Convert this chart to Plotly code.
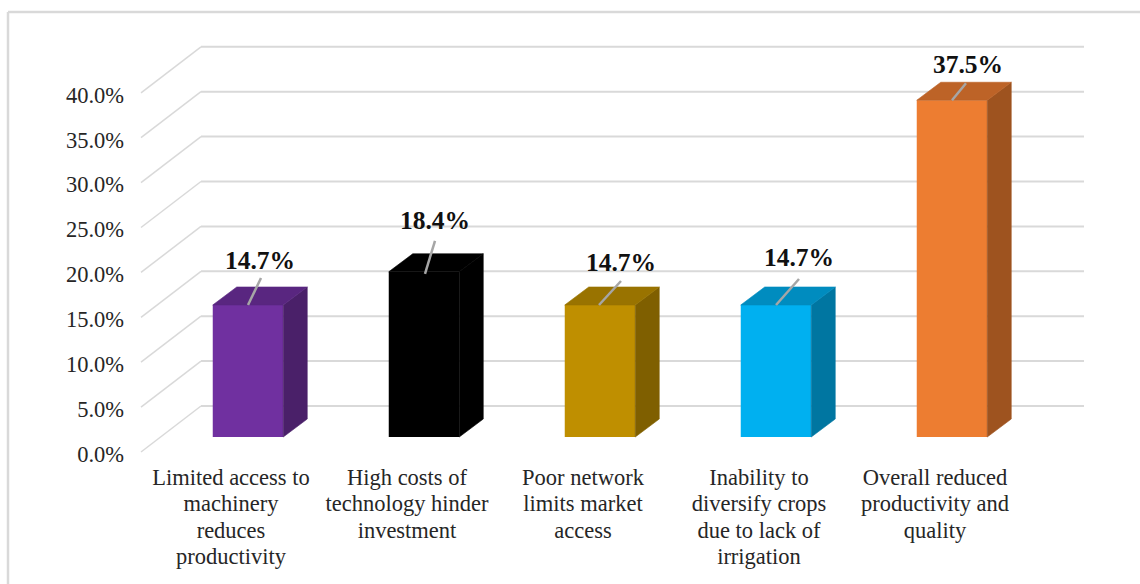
import plotly.graph_objects as go

# Chart data
category_lines = [
    ["Limited access to", "machinery", "reduces", "productivity"],
    ["High costs of", "technology hinder", "investment"],
    ["Poor network", "limits market", "access"],
    ["Inability to", "diversify crops", "due to lack of", "irrigation"],
    ["Overall reduced", "productivity and", "quality"],
]
values = [14.7, 18.4, 14.7, 14.7, 37.5]
value_labels = ["14.7%", "18.4%", "14.7%", "14.7%", "37.5%"]
y_ticks = [0, 5, 10, 15, 20, 25, 30, 35, 40]
front_colors = ["#7030A0", "#000000", "#BF8F00", "#00B0F0", "#ED7D31"]
side_colors = ["#4A2069", "#000000", "#7F5F00", "#0076A1", "#9E531F"]
top_colors = ["#592680", "#000000", "#997300", "#008CBF", "#BD6327"]

# Figure geometry: the plot area runs to the page foot so captions fit inside it
WIDTH, HEIGHT = 1140, 584
LEFT = 130
BELOW_ZERO = 132
PX_PER_PCT = 8.98
PX_PER_CAT = 176.0
FIRST_BAR_PX = 248.0


def dx(px):
    return px / PX_PER_CAT


def dy(px):
    return px / PX_PER_PCT


BAR_WIDTH = dx(70.5)
BAR_BASE = dy(15)
DEPTH_X, DEPTH_Y = dx(24), dy(18)
WALL_LEFT, WALL_FLOOR_LEFT, WALL_RIGHT = dx(201 - FIRST_BAR_PX), dx(141 - FIRST_BAR_PX), dx(1084 - FIRST_BAR_PX)
WALL_RISE = dy(46)
x_range = [dx(LEFT - FIRST_BAR_PX), dx(WIDTH - FIRST_BAR_PX)]
y_range = [dy(-BELOW_ZERO), dy(HEIGHT - BELOW_ZERO)]

# Data label placement relative to each bar's front-top centre, in pixels
leader_start = [(0, 0), (1, -2), (-1, 0), (0, 0), (0, 0)]
leader_end = [(13, 27), (11, 31), (21, 24), (23, 26), (14, 17)]
label_offset = [(12, 42.5), (11, 49), (21, 40), (23, 45), (16, 34)]

# Category captions are set line by line for a tight leading
CAPTION_SHIFT = dx(-17)
CAPTION_FIRST = dy(-27)
CAPTION_PITCH = dy(26.6)

positions = list(range(len(values)))
fig = go.Figure()

# Front faces
fig.add_trace(go.Bar(
    x=positions, y=values, base=BAR_BASE, width=BAR_WIDTH,
    marker=dict(color=front_colors, line_width=0), hoverinfo="skip",
))

# Side and top faces of each bar
for i, v in enumerate(values):
    right = i + BAR_WIDTH / 2
    left = i - BAR_WIDTH / 2
    top = v + BAR_BASE
    fig.add_trace(go.Scatter(
        x=[right, right, right + DEPTH_X, right + DEPTH_X, right],
        y=[BAR_BASE, top, top + DEPTH_Y, BAR_BASE + DEPTH_Y, BAR_BASE],
        fill="toself", fillcolor=side_colors[i], mode="lines",
        line=dict(color=side_colors[i], width=0.6), hoverinfo="skip",
    ))
    fig.add_trace(go.Scatter(
        x=[left, right, right + DEPTH_X, left + DEPTH_X, left],
        y=[top, top, top + DEPTH_Y, top + DEPTH_Y, top],
        fill="toself", fillcolor=top_colors[i], mode="lines",
        line=dict(color=top_colors[i], width=0.6), hoverinfo="skip",
    ))

# Leader lines from bars to their labels
for i, v in enumerate(values):
    top = v + BAR_BASE
    fig.add_trace(go.Scatter(
        x=[i + dx(leader_start[i][0]), i + dx(leader_end[i][0])],
        y=[top + dy(leader_start[i][1]), top + dy(leader_end[i][1])],
        mode="lines", line=dict(color="#A6A6A6", width=2.5), hoverinfo="skip",
    ))

# Value labels
fig.add_trace(go.Scatter(
    x=[i + dx(label_offset[i][0]) for i in positions],
    y=[v + BAR_BASE + dy(label_offset[i][1]) for i, v in enumerate(values)],
    text=value_labels, mode="text", textposition="middle center",
    texttemplate="<b>%{text}</b>",
    textfont=dict(family="Liberation Serif", size=25.5, color="#111111"), hoverinfo="skip",
))

# Category captions under the floor
caption_x, caption_y, caption_text = [], [], []
for i, lines in enumerate(category_lines):
    for row, line in enumerate(lines):
        caption_x.append(i + CAPTION_SHIFT)
        caption_y.append(CAPTION_FIRST - row * CAPTION_PITCH)
        caption_text.append(line)
fig.add_trace(go.Scatter(
    x=caption_x, y=caption_y, text=caption_text, mode="text",
    textposition="middle center", cliponaxis=False,
    textfont=dict(family="Liberation Serif", size=22.5, color="#262626"), hoverinfo="skip",
))

# Wall and floor gridlines sit behind the bars
GRID = "#D9D9D9"
shapes = []
for t in y_ticks:
    shapes.append(dict(type="line", xref="x", yref="y", layer="below",
                       x0=WALL_FLOOR_LEFT, y0=t, x1=WALL_LEFT, y1=t + WALL_RISE,
                       line=dict(color=GRID, width=1.5)))
    shapes.append(dict(type="line", xref="x", yref="y", layer="below",
                       x0=WALL_LEFT, y0=t + WALL_RISE, x1=WALL_RIGHT, y1=t + WALL_RISE,
                       line=dict(color=GRID, width=2)))

# Outer frame: only the left and top edges fall inside the page
plot_w = WIDTH - LEFT
frame_left = (8 - LEFT) / plot_w
frame_top = (HEIGHT - 12) / HEIGHT
for x0, y0, x1, y1 in [(frame_left, 0, frame_left, frame_top),
                       (frame_left, frame_top, 1, frame_top)]:
    shapes.append(dict(type="line", xref="paper", yref="paper", layer="below",
                       x0=x0, y0=y0, x1=x1, y1=y1, line=dict(color=GRID, width=2.5)))

fig.update_layout(
    width=WIDTH, height=HEIGHT, autosize=False,
    margin=dict(l=LEFT, r=0, t=0, b=0, pad=0),
    paper_bgcolor="white", plot_bgcolor="white",
    showlegend=False, shapes=shapes,
    xaxis=dict(range=x_range, showticklabels=False,
               showgrid=False, zeroline=False, showline=False, ticks=""),
    yaxis=dict(range=y_range, tickmode="array", tickvals=y_ticks,
               ticktext=[f"{t:.1f}%" for t in y_ticks],
               showgrid=False, zeroline=False, showline=False, ticks="",
               ticklabelstandoff=5, ticklabelshift=2,
               tickfont=dict(family="Liberation Serif", size=22.5, color="#262626")),
)

fig.write_html("out.html", config=dict(displayModeBar=False))
